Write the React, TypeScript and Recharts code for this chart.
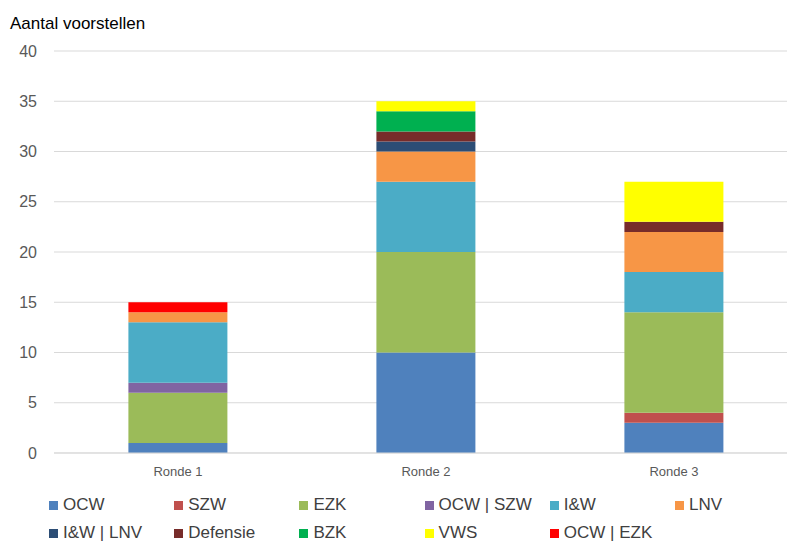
import { BarChart, Bar, XAxis, YAxis, CartesianGrid } from 'recharts';

// Rondes en aantallen per ministerie (gestapeld, van onder naar boven)
const rondes = ['Ronde 1', 'Ronde 2', 'Ronde 3'];

const ocw = [1, 10, 3];
const szw = [0, 0, 1];
const ezk = [5, 10, 10];
const ocwSzw = [1, 0, 0];
const iw = [6, 7, 4];
const lnv = [1, 3, 4];
const iwLnv = [0, 1, 0];
const defensie = [0, 1, 1];
const bzk = [0, 2, 0];
const vws = [0, 1, 4];
const ocwEzk = [1, 0, 0];

const yTicks = [0, 5, 10, 15, 20, 25, 30, 35, 40];

const SERIES = [
  { key: 'OCW', values: ocw, color: '#4F81BD' },
  { key: 'SZW', values: szw, color: '#C0504D' },
  { key: 'EZK', values: ezk, color: '#9BBB59' },
  { key: 'OCW | SZW', values: ocwSzw, color: '#8064A2' },
  { key: 'I&W', values: iw, color: '#4BACC6' },
  { key: 'LNV', values: lnv, color: '#F79646' },
  { key: 'I&W | LNV', values: iwLnv, color: '#2C4D75' },
  { key: 'Defensie', values: defensie, color: '#772C2A' },
  { key: 'BZK', values: bzk, color: '#00B050' },
  { key: 'VWS', values: vws, color: '#FFFF00' },
  { key: 'OCW | EZK', values: ocwEzk, color: '#FF0000' },
];

const data = rondes.map((name, i) => {
  const row: { [k: string]: string | number } = { name };
  SERIES.forEach((s) => {
    row[s.key] = s.values[i];
  });
  return row;
});

const FONT = "'Liberation Sans', Arial, sans-serif";

const Legenda = () => (
  <div>
    {SERIES.map((s, i) => {
      const col = i % 6;
      const row = Math.floor(i / 6);
      return (
        <div
          key={s.key}
          style={{
            position: 'absolute',
            left: 49 + col * 125.2,
            top: 495 + row * 28,
            display: 'flex',
            alignItems: 'center',
            fontSize: 17,
            color: '#404040',
            whiteSpace: 'nowrap',
          }}
        >
          <span
            style={{
              display: 'inline-block',
              width: 9,
              height: 9,
              background: s.color,
              marginRight: 5,
            }}
          />
          {s.key}
        </div>
      );
    })}
  </div>
);

export default function App() {
  return (
    <div
      style={{
        position: 'absolute',
        left: 0,
        top: 0,
        width: 787,
        height: 542,
        overflow: 'hidden',
        background: '#fff',
        fontFamily: FONT,
      }}
    >
      <div style={{ position: 'absolute', left: 10, top: 14, fontSize: 17, color: '#000' }}>
        Aantal voorstellen
      </div>
      <div style={{ position: 'absolute', left: 0, top: 0 }}>
        <BarChart
          width={800}
          height={542}
          data={data}
          margin={{ top: 51, right: 2, bottom: 59, left: 0 }}
          barCategoryGap="30%"
        >
          <CartesianGrid vertical={false} stroke="#D9D9D9" />
          <XAxis
            dataKey="name"
            height={30}
            axisLine={{ stroke: '#D9D9D9' }}
            tickLine={false}
            tick={{ fill: '#595959', fontSize: 13, fontFamily: FONT }}
            tickMargin={8}
          />
          <YAxis
            width={54}
            domain={[0, 40]}
            ticks={yTicks}
            axisLine={false}
            tickLine={false}
            tickSize={0}
            tickMargin={17}
            tick={{ fill: '#595959', fontSize: 16, fontFamily: FONT }}
          />
          {SERIES.map((s) => (
            <Bar key={s.key} dataKey={s.key} stackId="a" fill={s.color} isAnimationActive={false} />
          ))}
        </BarChart>
      </div>
      <Legenda />
    </div>
  );
}
